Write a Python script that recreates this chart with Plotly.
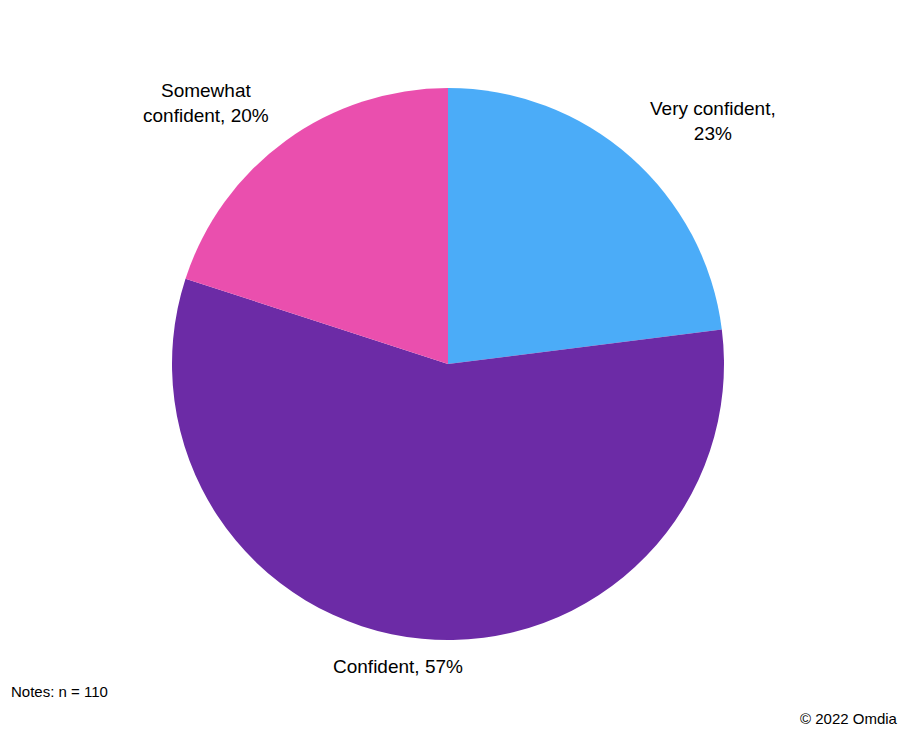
import plotly.graph_objects as go

categories = ["Very confident", "Confident", "Somewhat confident"]
values = [23, 57, 20]
colors = ["#4BACF8", "#6C2BA6", "#EA4FAE"]
label_text = ["Very confident,<br>23%", "Confident, 57%", "Somewhat<br>confident, 20%"]
label_pos = [(713, 121), (398, 666), (206, 103)]  # page pixel centres of labels

# page body has an 8px margin; the figure is placed at (8, 8)
OFF = 8
W, H = 910 - 2 * OFF, 735 - 2 * OFF


def px(x):
    return (x - OFF) / W


def py(y):
    return 1 - (y - OFF) / H


fig = go.Figure(go.Pie(
    labels=categories,
    values=values,
    marker=dict(colors=colors, line=dict(width=0)),
    sort=False,
    direction="clockwise",
    rotation=0,
    textinfo="none",
    hoverinfo="label+percent",
    domain=dict(x=[px(172), px(724)], y=[py(640), py(88)]),
    showlegend=False,
))

fam = "Liberation Sans, Arial, sans-serif"
font = dict(family=fam, size=19, color="#000000")
for txt, (x, y) in zip(label_text, label_pos):
    fig.add_annotation(x=px(x), y=py(y), xref="paper", yref="paper",
                       text=txt, showarrow=False, font=font, align="center",
                       xanchor="center", yanchor="middle")

fig.add_annotation(x=px(9), y=py(691), xref="paper", yref="paper",
                   text="Notes: n = 110", showarrow=False,
                   font=dict(family=fam, size=15, color="#000"),
                   xanchor="left", yanchor="middle")
fig.add_annotation(x=px(900), y=py(718), xref="paper", yref="paper",
                   text="© 2022 Omdia", showarrow=False,
                   font=dict(family=fam, size=15, color="#000"),
                   xanchor="right", yanchor="middle")

fig.update_layout(width=W, height=H, margin=dict(l=0, r=0, t=0, b=0),
                  paper_bgcolor="white", plot_bgcolor="white")
fig.write_html("out.html")
